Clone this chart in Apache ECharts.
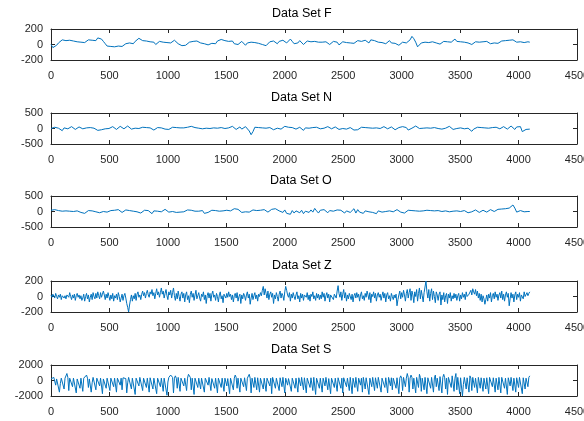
<!DOCTYPE html>
<html>
<head>
<meta charset="utf-8">
<script src="https://cdn.jsdelivr.net/npm/echarts@6/dist/echarts.min.js"></script>
<style>
html,body{margin:0;padding:0;background:#fff;}
#chart{width:584px;height:421px;}
</style>
</head>
<body>
<div id="chart"></div>
<script>
// Panel titles and y limits
const titles = ['Data Set F', 'Data Set N', 'Data Set O', 'Data Set Z', 'Data Set S'];
const yLimits = [200, 500, 500, 200, 2000];
const xTickValues = [0, 500, 1000, 1500, 2000, 2500, 3000, 3500, 4000, 4500];
// sample index spacing of the values, per panel
const sampleSteps = [16, 16, 16, 8, 8];

const dataF = [
  0,-40,-55,-10,20,45,60,35,50,40,55,30,45,20,35,40,
  30,50,25,45,60,40,55,70,50,85,100,70,40,10,-20,-30,
  -25,-15,-30,-10,-20,0,-25,-10,10,-5,20,30,10,40,60,80,
  70,50,30,45,20,35,10,30,0,25,40,15,30,5,25,35,
  20,40,55,35,10,0,-15,5,-10,15,30,10,40,25,45,30,
  20,35,10,30,-5,20,15,35,10,45,30,65,80,50,30,40,
  20,45,10,35,0,25,40,20,-10,20,40,30,50,25,35,15,
  30,0,25,-15,10,35,20,45,30,10,40,25,55,35,20,45,
  70,40,10,35,20,50,30,0,25,45,20,35,10,40,25,30,
  50,30,10,35,20,0,25,40,15,30,-5,20,35,45,25,40,
  20,35,15,30,50,25,40,30,55,35,20,60,85,50,40,30,
  45,25,35,10,30,50,20,0,15,40,-10,-20,30,50,20,45,
  60,105,75,30,-30,-10,20,45,30,55,25,10,35,50,20,30,
  5,25,40,15,35,60,30,45,70,40,20,35,10,30,40,20,
  25,0,20,35,10,30,15,35,20,40,25,10,35,20,30,15,
  30,45,25,50,35,55,40,60,45,30,50,35,55,25,10,35,
  30
];
const dataN = [
  0,-20,40,60,10,-40,-70,20,40,-10,30,60,20,-30,10,50,
  30,-10,40,20,-20,30,60,10,-30,-60,-120,-40,20,-10,30,0,
  40,60,10,-30,20,70,30,-10,50,80,20,-20,30,10,-40,0,
  20,40,-10,30,60,20,-20,-50,10,30,-10,20,50,-20,-80,-30,
  10,40,0,30,-30,20,60,20,-10,40,0,70,90,30,-20,10,
  40,-10,-40,10,30,0,-30,20,50,10,-20,30,60,0,-50,20,
  40,70,20,-30,30,50,-20,-60,60,100,-80,-200,-100,40,90,30,
  -20,20,60,10,-30,30,0,-40,-80,10,40,-20,30,70,20,40,
  -10,30,50,-20,10,40,0,-60,20,50,10,-20,30,0,40,20,
  -10,30,10,40,60,20,-10,30,50,10,-30,20,0,40,-20,10,
  30,-20,-50,-90,-40,10,40,0,30,-10,20,50,10,-30,20,40,
  0,30,60,20,-10,30,50,10,-40,-20,30,0,60,90,30,-50,
  -70,10,40,80,30,0,40,10,-30,20,60,10,-20,30,50,0,
  30,-20,-60,10,40,70,20,-30,30,0,60,20,-40,-10,30,10,
  -50,-90,-20,20,40,0,30,-10,20,50,10,-20,30,0,40,20,
  -10,30,60,10,-20,40,80,20,-30,50,110,60,-100,-160,-30,10,
  -20
];
const dataO = [
  40,90,60,80,30,50,10,-20,20,-30,10,-40,0,-20,20,-10,
  -30,10,-60,-20,30,70,20,60,-10,30,-40,20,0,50,-20,10,
  30,-20,40,10,60,0,-30,20,50,-10,30,-20,10,40,-10,20,
  -50,10,40,-20,30,0,-70,20,60,10,40,-10,30,70,20,-20,
  40,0,30,-30,10,-20,20,-10,30,50,0,40,-20,10,-40,10,
  -20,30,-60,0,-30,20,40,-10,30,-20,10,-40,20,-10,40,60,
  20,60,90,40,70,10,-30,30,-10,40,-20,20,50,-10,30,0,
  40,-10,60,20,-20,30,70,40,90,50,20,60,-30,50,-60,-10,
  -90,30,-50,20,80,-40,40,-70,10,60,-30,50,-20,100,20,-50,
  40,-20,60,0,-40,30,70,10,-30,50,-10,40,0,-50,20,60,
  -30,30,90,-50,60,-20,40,-60,20,70,-10,40,-30,10,-70,20,
  50,-20,30,0,-30,20,40,-10,20,60,0,-20,30,-50,10,40,
  0,30,-20,20,50,10,-30,20,0,40,-10,30,60,20,-10,30,
  50,0,-40,20,40,-10,30,10,-30,20,50,0,-20,30,10,-40,
  20,-10,30,50,0,-30,20,40,10,-20,30,60,20,0,40,70,
  50,80,60,90,70,110,150,210,110,-20,-50,30,10,-10,20,0,
  0
];
const dataZ = [
  20,-10,30,10,-20,40,0,-30,20,-10,30,-40,10,30,-20,10,
  -30,20,40,-10,50,0,-40,20,-20,30,-50,10,40,-10,20,-30,
  10,-50,-20,30,-60,0,40,-30,20,-70,-10,30,-40,50,0,-30,
  40,-20,60,10,-30,50,-10,30,70,20,-40,30,-20,50,0,-50,
  20,-30,40,-60,10,-20,30,-40,50,0,-70,-20,30,-50,10,40,
  -20,-90,-140,-200,-110,-40,20,-60,10,-30,40,-50,30,60,-10,20,
  -40,30,70,10,50,-20,40,80,20,-10,60,30,90,10,50,-30,
  40,100,20,60,-10,50,110,30,70,-20,40,90,10,-40,60,20,
  80,-20,50,110,10,-50,40,-30,70,0,-60,30,60,-20,40,-70,
  20,60,-40,10,-80,30,70,-10,40,-50,20,80,-30,10,50,-20,
  -60,30,0,60,-40,20,-90,10,50,-20,40,-60,30,70,-10,20,
  -50,40,0,-70,20,60,-30,10,-80,30,50,-20,40,-10,60,0,
  30,-40,20,-70,10,40,-20,50,-60,0,30,-90,20,-30,40,10,
  -50,20,60,-20,30,-100,-20,40,-40,10,50,-30,20,-60,30,0,
  50,10,80,130,20,100,40,-20,70,-40,30,60,-10,40,-90,20,
  -30,50,0,-60,30,70,-20,40,10,-50,60,130,80,20,-10,50,
  -60,30,-20,50,0,-40,20,60,-30,10,-70,40,-20,30,-50,20,
  40,-10,50,-40,20,-60,30,0,60,-30,10,-50,40,-20,30,-40,
  20,-30,60,-10,40,-60,10,50,-20,30,-70,20,40,0,-40,30,
  50,-20,70,140,40,-10,60,-50,30,90,-20,50,-60,20,-30,40,
  60,-40,30,-70,10,40,-20,50,-10,30,-60,20,60,-30,10,-50,
  40,-10,70,20,-40,50,-80,30,0,60,-20,40,-60,20,50,-10,
  30,-50,10,60,-20,40,-70,20,50,-30,10,-60,40,0,-40,20,
  -20,30,-120,-40,20,70,-30,50,-10,80,20,-60,40,90,-20,50,
  100,-50,70,20,-80,60,0,90,-60,40,110,-30,80,10,-70,50,
  30,200,60,-20,90,-60,40,100,-40,70,0,-80,60,20,-50,30,
  60,-110,20,-40,50,-70,10,40,-90,30,-20,50,-60,10,-30,40,
  -20,30,-50,10,40,-60,20,-30,50,-10,30,-40,60,0,-20,30,
  40,80,20,100,60,30,90,10,70,-20,40,-50,30,-70,10,-30,
  -100,-40,20,-60,30,-20,50,-70,10,40,-30,60,-10,30,-50,20,
  50,-20,70,-40,30,-60,20,60,-10,40,-120,-30,50,-20,30,-70,
  20,60,-40,30,-10,50,-60,20,40,-30,60,0,-20,50,10,40,
  60
];
const dataS = [
  200,300,250,400,350,-600,200,350,300,-1500,-400,300,250,400,-1100,300,
  500,900,400,-1300,300,350,200,-800,300,450,300,-1600,200,400,300,-1000,
  300,400,-1400,300,250,350,700,300,-900,200,300,-1500,-300,400,350,300,
  -1200,300,400,250,-700,300,350,-1700,200,300,400,-1000,300,250,350,-1300,
  300,400,200,-800,300,350,-1500,300,250,400,-600,300,-1200,350,300,400,
  250,-1600,-300,400,300,350,-1100,300,200,400,-1800,300,350,300,-700,400,
  300,250,-1300,300,400,350,-900,300,250,-1500,350,300,400,-1100,300,250,
  400,-1700,300,350,200,-800,300,400,-1400,300,250,350,-1900,-200,400,300,
  700,900,400,-1600,300,600,300,-1000,400,350,-1400,300,500,400,-700,300,
  400,-1300,300,800,1000,400,-1200,300,350,-1800,300,400,250,-900,300,350,
  -1100,300,400,250,-1500,300,350,300,-600,400,300,-1300,250,350,400,-1000,
  300,350,-1600,300,250,400,-900,300,350,-1400,300,400,-700,250,300,-1700,
  300,400,350,-1200,300,700,400,-1000,300,350,-1500,300,400,250,-800,350,
  600,-1300,300,400,800,300,-1600,300,350,-900,400,300,-1200,350,250,-1500,
  300,400,350,-1100,300,250,-1400,300,400,350,-700,300,-1700,400,300,350,
  -1000,300,250,400,-1300,350,300,-800,400,300,-1600,300,350,-600,250,300,
  400,-1400,300,350,250,-1000,300,400,-1500,350,300,-700,400,300,-1200,350,
  300,-1600,300,400,250,-900,350,300,-1300,400,300,-1800,300,350,250,-1000,
  300,400,-1500,300,350,-700,400,300,-1200,250,350,-1700,300,400,350,-900,
  300,250,-1400,350,400,300,-1000,300,-1600,350,400,250,-800,300,350,-1300,
  400,300,-1700,300,350,-900,400,250,-1400,300,350,-600,300,-1500,400,300,
  -1100,350,300,400,-1800,300,250,-800,400,300,-1300,350,300,-1000,400,350,
  300,-1500,300,400,250,-900,350,300,-1600,400,300,-700,350,-1200,300,400,
  300,-1000,350,400,-1700,300,600,300,-1300,400,350,-800,300,900,400,-1500,
  300,700,400,-1100,300,350,-1600,400,300,-900,800,400,-1400,300,350,-1200,
  400,300,-1700,350,600,300,-1000,400,300,-1500,350,700,-800,300,400,-1300,
  500,300,-1600,400,800,350,-1100,300,-1800,400,350,300,-900,600,400,-1400,
  300,900,-1200,400,300,-1700,350,400,-2000,-500,400,300,-1100,350,400,-1500,
  600,300,-1300,400,350,-900,300,500,-1600,400,300,-1000,350,400,-1400,300,
  400,-1100,350,300,-1700,400,600,300,-800,350,400,-1500,300,350,-1200,400,
  300,-1600,400,350,500,-1000,300,400,-1800,350,300,-700,400,350,-1300,300,
  400,-1500,350,300,-900,400,600,300,-1700,350,400,-1100,300,500,-800,400,
  600
];
const allData = [dataF, dataN, dataO, dataZ, dataS];

const gridTops = [29, 113, 196, 281, 365];
const gridH = 31;
const titleLefts = [272, 271, 270, 272, 271];
const axisColor = '#262626';
const fontFam = 'Liberation Sans, Arial, Helvetica, sans-serif';

const chart = echarts.init(document.getElementById('chart'), null, {renderer: 'canvas'});
const grids = [], xAxes = [], yAxes = [], series = [], titleArr = [];
allData.forEach((vals, i) => {
  grids.push({left: 51, width: 526, top: gridTops[i], height: gridH, containLabel: false, outerBoundsMode: 'none'});
  titleArr.push({
    text: titles[i], left: titleLefts[i], top: gridTops[i] - 22, padding: 0,
    textStyle: {fontSize: 12.5, fontWeight: 'normal', color: '#000', fontFamily: fontFam}
  });
  const xBase = {
    gridIndex: i, type: 'value', min: xTickValues[0], max: xTickValues[xTickValues.length - 1],
    interval: xTickValues[1] - xTickValues[0],
    axisLine: {show: true, onZero: false, lineStyle: {color: axisColor, width: 1}},
    axisTick: {show: true, inside: true, length: 4, lineStyle: {color: axisColor}},
    splitLine: {show: false}
  };
  xAxes.push(Object.assign({}, xBase, {
    position: 'bottom',
    axisLabel: {show: true, margin: 10, fontSize: 11, color: axisColor, fontFamily: fontFam, formatter: v => String(v)}
  }));
  xAxes.push(Object.assign({}, xBase, {position: 'top', axisLabel: {show: false}}));
  const L = yLimits[i];
  const yBase = {
    gridIndex: i, type: 'value', min: -L, max: L, interval: L,
    axisLine: {show: true, onZero: false, lineStyle: {color: axisColor, width: 1}},
    axisTick: {show: true, inside: true, length: 4, lineStyle: {color: axisColor}},
    splitLine: {show: false}
  };
  yAxes.push(Object.assign({}, yBase, {
    position: 'left',
    axisLabel: {show: true, margin: 8, fontSize: 11, color: axisColor, fontFamily: fontFam, formatter: v => String(v)}
  }));
  yAxes.push(Object.assign({}, yBase, {position: 'right', axisLabel: {show: false}}));
  series.push({
    type: 'line', xAxisIndex: 2 * i, yAxisIndex: 2 * i,
    data: vals.map((v, k) => [k * sampleSteps[i], v]),
    showSymbol: false, symbol: 'none', animation: false,
    lineStyle: {color: '#0072BD', width: 1}
  });
});

chart.setOption({
  animation: false,
  backgroundColor: '#fff',
  title: titleArr,
  grid: grids,
  xAxis: xAxes,
  yAxis: yAxes,
  series: series
});
</script>
</body>
</html>
